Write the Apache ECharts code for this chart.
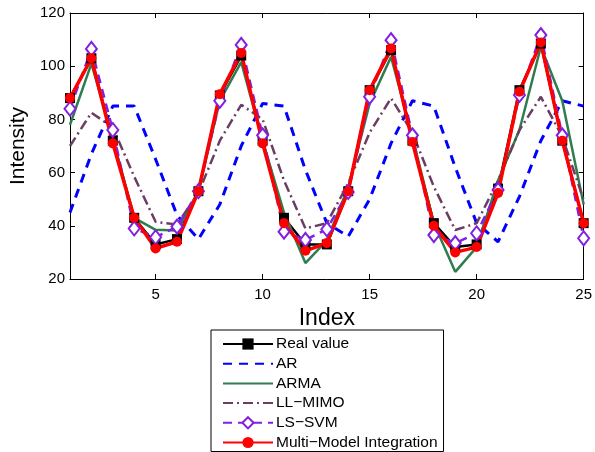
<!DOCTYPE html>
<html>
<head>
<meta charset="utf-8">
<script src="https://cdn.jsdelivr.net/npm/echarts@6/dist/echarts.min.js"></script>
<style>
  html, body { margin: 0; padding: 0; background: #fff; }
  #chart { width: 595px; height: 452px; }
</style>
</head>
<body>
<div id="chart"></div>
<script>
// data
const indexValues = [1,2,3,4,5,6,7,8,9,10,11,12,13,14,15,16,17,18,19,20,21,22,23,24,25];
const xTickValues = [5, 10, 15, 20, 25];

const realValue = [88,103,72,43,33,35,53,89,104,72,43,33,33,53,91,106,72,41,32,33,54,91,108.5,72,41];
const arValues = [45,67,85,85,65,44,35,48,70,86,85,61,41,36,50,71,87,85,62,41,34,51,72,87,85];
const armaValues = [78,101,73,43,38.5,38.2,53,87,101.5,72,45,26,34.5,54.5,86,103.5,73.5,41,22.7,32,57,76,107.3,87,48];
const llMimoValues = [70,82.5,77,58.5,41.5,40.5,52.3,72,85.5,80,57,39,41,56,75,88,75,54.7,38.4,41,57,76,88.5,73.5,49.7];
const lsSvmValues = [84,106.5,76,39,35.7,39.7,53,87,108,74,37.8,34.7,38.7,52.7,88.5,109.8,74,36.5,33.5,37.2,53.5,89.2,111.7,74,35.3];
const mmiValues = [88,103,71,43,31.5,34,53,89.5,105,71,41,30.6,33.5,53,91,106.7,71.5,40,30,32,52.3,90.4,108.9,72,41];

const pairs = (ys) => ys.map((y, i) => [indexValues[i], y]);

const chart = echarts.init(document.getElementById("chart"), null, { renderer: "canvas" });

const font = "'Liberation Sans', Arial, Helvetica, sans-serif";

// legend entries for plain lines carry no marker
const noMarker = { opacity: 0 };

const option = {
  animation: false,
  backgroundColor: "#fff",
  textStyle: { fontFamily: font },
  grid: { left: 70, right: 9, top: 13, bottom: 173 },
  legend: {
    orient: "vertical",
    left: 211,
    top: 330,
    height: 200,
    itemWidth: 50,
    itemHeight: 14,
    itemGap: 3.7,
    padding: [6, 6, 1, 11],
    borderColor: "#000",
    borderWidth: 1,
    backgroundColor: "#fff",
    textStyle: { fontSize: 15.5, color: "#000", fontFamily: font, padding: [0, 0, 0, -2] },
    data: [
      { name: "Real value" },
      { name: "AR", itemStyle: noMarker },
      { name: "ARMA", itemStyle: noMarker },
      { name: "LL\u2212MIMO", itemStyle: noMarker },
      { name: "LS\u2212SVM" },
      { name: "Multi\u2212Model Integration" }
    ]
  },
  xAxis: [
    {
      type: "value",
      min: 1,
      max: 25,
      name: "Index",
      nameLocation: "middle",
      nameGap: 25,
      nameTextStyle: { fontSize: 23, color: "#000", fontFamily: font },
      axisLine: { lineStyle: { color: "#000", width: 1 } },
      axisTick: { inside: true, length: 5, lineStyle: { color: "#000" }, customValues: xTickValues },
      axisLabel: { color: "#000", fontSize: 15, margin: 8, customValues: xTickValues },
      splitLine: { show: false }
    },
    {
      type: "value",
      position: "top",
      min: 1,
      max: 25,
      axisLine: { lineStyle: { color: "#000", width: 1 } },
      axisTick: { inside: true, length: 5, lineStyle: { color: "#000" }, customValues: xTickValues },
      axisLabel: { show: false },
      splitLine: { show: false }
    }
  ],
  yAxis: [
    {
      type: "value",
      min: 20,
      max: 120,
      interval: 20,
      name: "Intensity",
      nameLocation: "middle",
      nameGap: 36,
      nameTextStyle: { fontSize: 21, color: "#000", fontFamily: font },
      axisLine: { show: true, lineStyle: { color: "#000", width: 1 } },
      axisTick: { show: true, inside: true, length: 5, lineStyle: { color: "#000" } },
      axisLabel: { color: "#000", fontSize: 15, margin: 5 },
      splitLine: { show: false }
    },
    {
      type: "value",
      position: "right",
      min: 20,
      max: 120,
      interval: 20,
      axisLine: { show: true, lineStyle: { color: "#000", width: 1 } },
      axisTick: { show: true, inside: true, length: 5, lineStyle: { color: "#000" } },
      axisLabel: { show: false },
      splitLine: { show: false }
    }
  ],
  series: [
    {
      name: "Real value",
      type: "line",
      data: pairs(realValue),
      symbol: "rect",
      symbolSize: 10,
      itemStyle: { color: "#000" },
      lineStyle: { color: "#000", width: 2.5 }
    },
    {
      name: "AR",
      type: "line",
      data: pairs(arValues),
      symbol: "none",
      itemStyle: { color: "#0000ff" },
      lineStyle: { color: "#0000ff", width: 3, type: [9, 7] }
    },
    {
      name: "ARMA",
      type: "line",
      data: pairs(armaValues),
      symbol: "none",
      itemStyle: { color: "#2e7d4f" },
      lineStyle: { color: "#2e7d4f", width: 2.5 }
    },
    {
      name: "LL\u2212MIMO",
      type: "line",
      data: pairs(llMimoValues),
      symbol: "none",
      itemStyle: { color: "#6b3d62" },
      lineStyle: { color: "#6b3d62", width: 2.5, type: [10, 4, 2, 4] }
    },
    {
      name: "LS\u2212SVM",
      type: "line",
      data: pairs(lsSvmValues),
      symbol: "emptyDiamond",
      symbolSize: [11, 14],
      itemStyle: { color: "#8020e0", borderWidth: 2 },
      lineStyle: { color: "#8020e0", width: 2.5, type: [9, 6] }
    },
    {
      name: "Multi\u2212Model Integration",
      type: "line",
      data: pairs(mmiValues),
      symbol: "circle",
      symbolSize: 10,
      itemStyle: { color: "#ff0000" },
      lineStyle: { color: "#ff0000", width: 3.5 }
    }
  ]
};

chart.setOption(option);
</script>
</body>
</html>
